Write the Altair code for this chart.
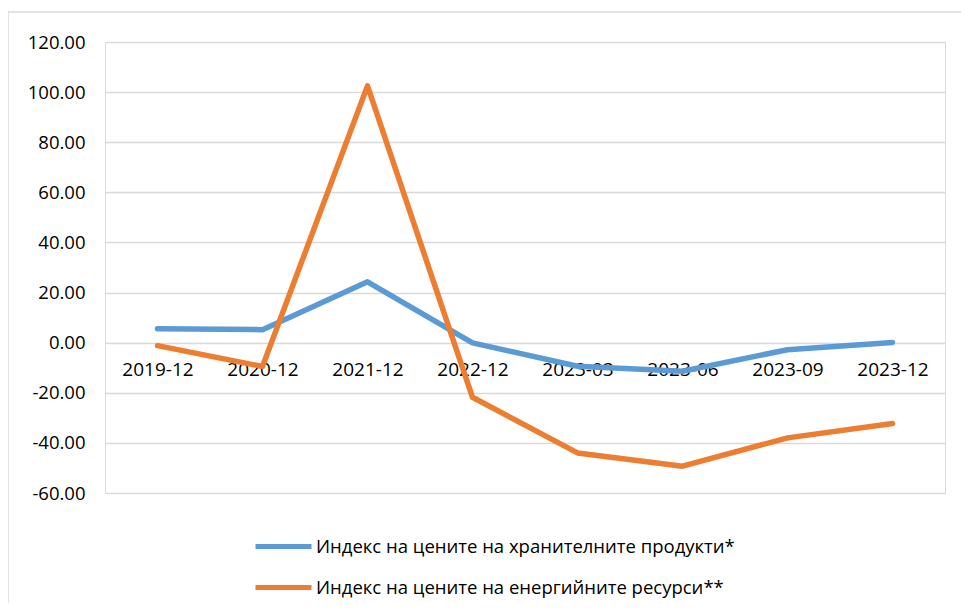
import altair as alt
import pandas as pd

categories = ["2019-12", "2020-12", "2021-12", "2022-12", "2023-03", "2023-06", "2023-09", "2023-12"]
food = [5.6, 5.2, 24.3, -0.1, -9.4, -11.4, -2.8, 0.1]
energy = [-1.2, -9.5, 102.5, -21.8, -44.0, -49.3, -38.0, -32.3]
series_names = ["Индекс на цените на хранителните продукти*", "Индекс на цените на енергийните ресурси**"]
y_ticks = [-60, -40, -20, 0, 20, 40, 60, 80, 100, 120]

rows = []
for name, vals in zip(series_names, [food, energy]):
    for c, v in zip(categories, vals):
        rows.append({"cat": c, "value": v, "series": name})
df = pd.DataFrame(rows)

FONT = "Open Sans"
W, H = 840, 451

border = alt.Chart(pd.DataFrame({"k": [0]})).mark_rect(
    fill=None, stroke="#D9D9D9", strokeWidth=1.5
).encode(
    x=alt.value(-97), x2=alt.value(W + 18), y=alt.value(-30), y2=alt.value(H + 140)
)

lines = alt.Chart(df).mark_line(strokeWidth=5.5, strokeCap="round", strokeJoin="round").encode(
    x=alt.X("cat:N", sort=categories, title=None,
            scale=alt.Scale(type="point", padding=0.5),
            axis=alt.Axis(orient="bottom", offset=-150, ticks=False, domain=False, grid=False,
                          labelAngle=0, labelFontSize=19, labelFont=FONT, labelColor="#000000",
                          labelPadding=17)),
    y=alt.Y("value:Q", title=None,
            scale=alt.Scale(domain=[-60, 120], nice=False),
            axis=alt.Axis(values=y_ticks, ticks=False, domain=False, gridColor="#D9D9D9",
                          gridWidth=1.5, labelFontSize=18.5, labelFont=FONT, labelColor="#000000",
                          labelPadding=20,
                          labelExpr="replace(format(datum.value, '.2f'), '\u2212', '-')")),
    color=alt.Color("series:N", sort=series_names, title=None,
                    scale=alt.Scale(domain=series_names, range=["#5B9BD5", "#ED7D31"]),
                    legend=alt.Legend(orient="none", legendX=148, legendY=474, direction="vertical",
                                      symbolType="stroke", symbolSize=3136, symbolStrokeWidth=5,
                                      labelFontSize=18.5, labelFont=FONT, labelColor="#000000",
                                      labelLimit=0, rowPadding=-18, labelOffset=2)),
    order=alt.Order("cat_order:Q"),
).transform_calculate(
    cat_order="indexof(" + str(categories) + ", datum.cat)"
)

chart = alt.layer(border, lines).properties(
    width=W, height=H,
    autosize=alt.AutoSizeParams(type="none"),
    padding={"left": 97, "top": 34, "right": 16, "bottom": 110},
).configure_view(stroke=None).configure(background="white")

chart.save("out.html", embed_options={"renderer": "svg", "actions": False})
